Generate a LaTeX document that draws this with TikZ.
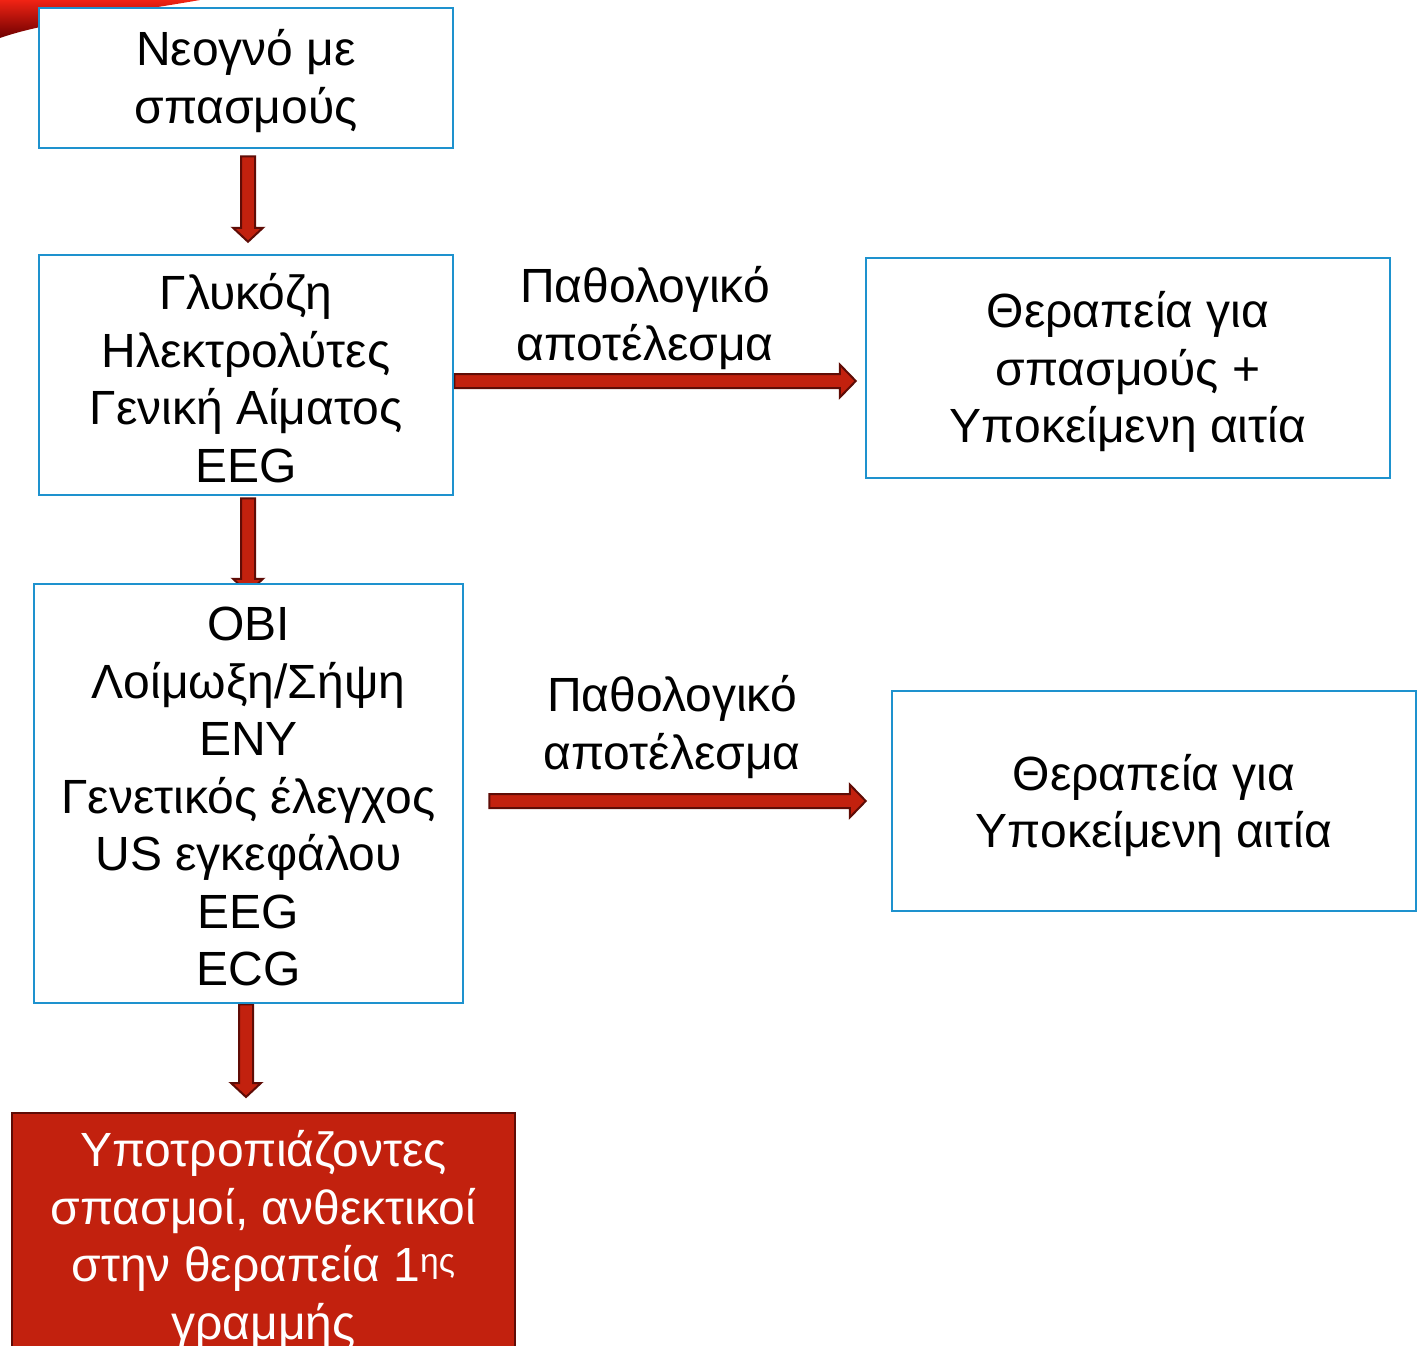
\documentclass[tikz,border=0pt]{standalone}
\usepackage{fontspec}
\setmainfont{Liberation Sans}
\usetikzlibrary{calc,backgrounds}
\definecolor{boxblue}{RGB}{30,146,206}
\definecolor{arrred}{RGB}{194,33,14}
\definecolor{arrdark}{RGB}{95,12,6}
\tikzset{
  bigtext/.style={font=\fontsize{48}{57.5}\selectfont},
  bluebox/.style={draw=boxblue, line width=2.5pt, fill=white, inner sep=0pt},
  redbox/.style={draw=arrdark, line width=2pt, fill=arrred, inner sep=0pt},
  lbl/.style={align=center, inner sep=0pt, bigtext},
  blockarr/.style={fill=arrred, draw=arrdark, line width=2pt, line join=miter}
}
\newcommand{\vblockarrow}[2]{%
  \filldraw[blockarr] let \p1=(#1), \p2=(#2) in
   (\x1-7pt,\y1) -- (\x1+7pt,\y1) -- (\x1+7pt,\y2+14pt) -- (\x1+15pt,\y2+14pt)
   -- (\x1,\y2) -- (\x1-15pt,\y2+14pt) -- (\x1-7pt,\y2+14pt) -- cycle;}
\newcommand{\hblockarrow}[2]{%
  \filldraw[blockarr] let \p1=(#1), \p2=(#2) in
   (\x1,\y1+7pt) -- (\x2-16pt,\y1+7pt) -- (\x2-16pt,\y1+16.5pt) -- (\x2,\y1)
   -- (\x2-16pt,\y1-16.5pt) -- (\x2-16pt,\y1-7pt) -- (\x1,\y1-7pt) -- cycle;}
\begin{document}
\begin{tikzpicture}[x=1pt,y=-1pt]
\useasboundingbox (0,0) rectangle (1425,1346);

\node[bluebox, minimum width=414, minimum height=140] (b1) at (246,78) {};
\node[bluebox, minimum width=414, minimum height=240] (b2) at (246,375) {};
\node[bluebox, minimum width=429, minimum height=419] (b3) at (248.5,793.5) {};
\node[bluebox, minimum width=524, minimum height=220] (b5) at (1128,368) {};
\node[bluebox, minimum width=524, minimum height=220] (b6) at (1154,801) {};
\node[redbox, anchor=north, minimum width=503, minimum height=300] (b4) at (263.5,1112) {};

\node[lbl] (t1) at ($(b1.center)+(0,3)$) {Νεογνό με\\σπασμούς};
\node[lbl] (t2) at ($(b2.center)+(0,3)$) {Γλυκόζη\\Ηλεκτρολύτες\\Γενική Αίματος\\EEG};
\node[lbl] (t3) at ($(b3.center)+(0,3)$) {OBI\\Λοίμωξη/Σήψη\\ENY\\Γενετικός έλεγχος\\US εγκεφάλου\\EEG\\ECG};
\node[lbl] (t5) at ($(b5.center)+(0,4)$) {Θεραπεία για\\σπασμούς +\\Υποκείμενη αιτία};
\node[lbl] (t6) at ($(b6.center)+(0,5)$) {Θεραπεία για\\Υποκείμενη αιτία};
\node[lbl, text=white] (t4) at (263.5,1240) {Υποτροπιάζοντες\\σπασμοί, ανθεκτικοί\\στην θεραπεία 1\textsuperscript{ης}\\γραμμής};

\node[lbl] (l1) at (645,318) {Παθολογικό\\αποτέλεσμα};
\node[lbl] (l2) at (672,727) {Παθολογικό\\αποτέλεσμα};

\begin{pgfonlayer}{background}
  \shade[top color={rgb,255:red,240;green,35;blue,20}, bottom color={rgb,255:red,110;green,0;blue,0}]
    (0,0) -- (200,0) .. controls (120,14) and (45,22) .. (0,38) -- cycle;
  \vblockarrow{$(b1.south)+(2,7)$}{$(b2.north)+(2,-12)$}
  \vblockarrow{$(b2.south)+(2,2)$}{$(b3.north)+(0,10)$}
  \vblockarrow{$(b3.south)+(-2.5,0)$}{$(b4.north)+(-17.5,-15)$}
  \hblockarrow{$(b2.east)+(0,6)$}{$(b5.west)+(-9,13)$}
  \hblockarrow{$(b3.east)+(25,7.5)$}{$(b6.west)+(-25,0)$}
\end{pgfonlayer}
\end{tikzpicture}
\end{document}
